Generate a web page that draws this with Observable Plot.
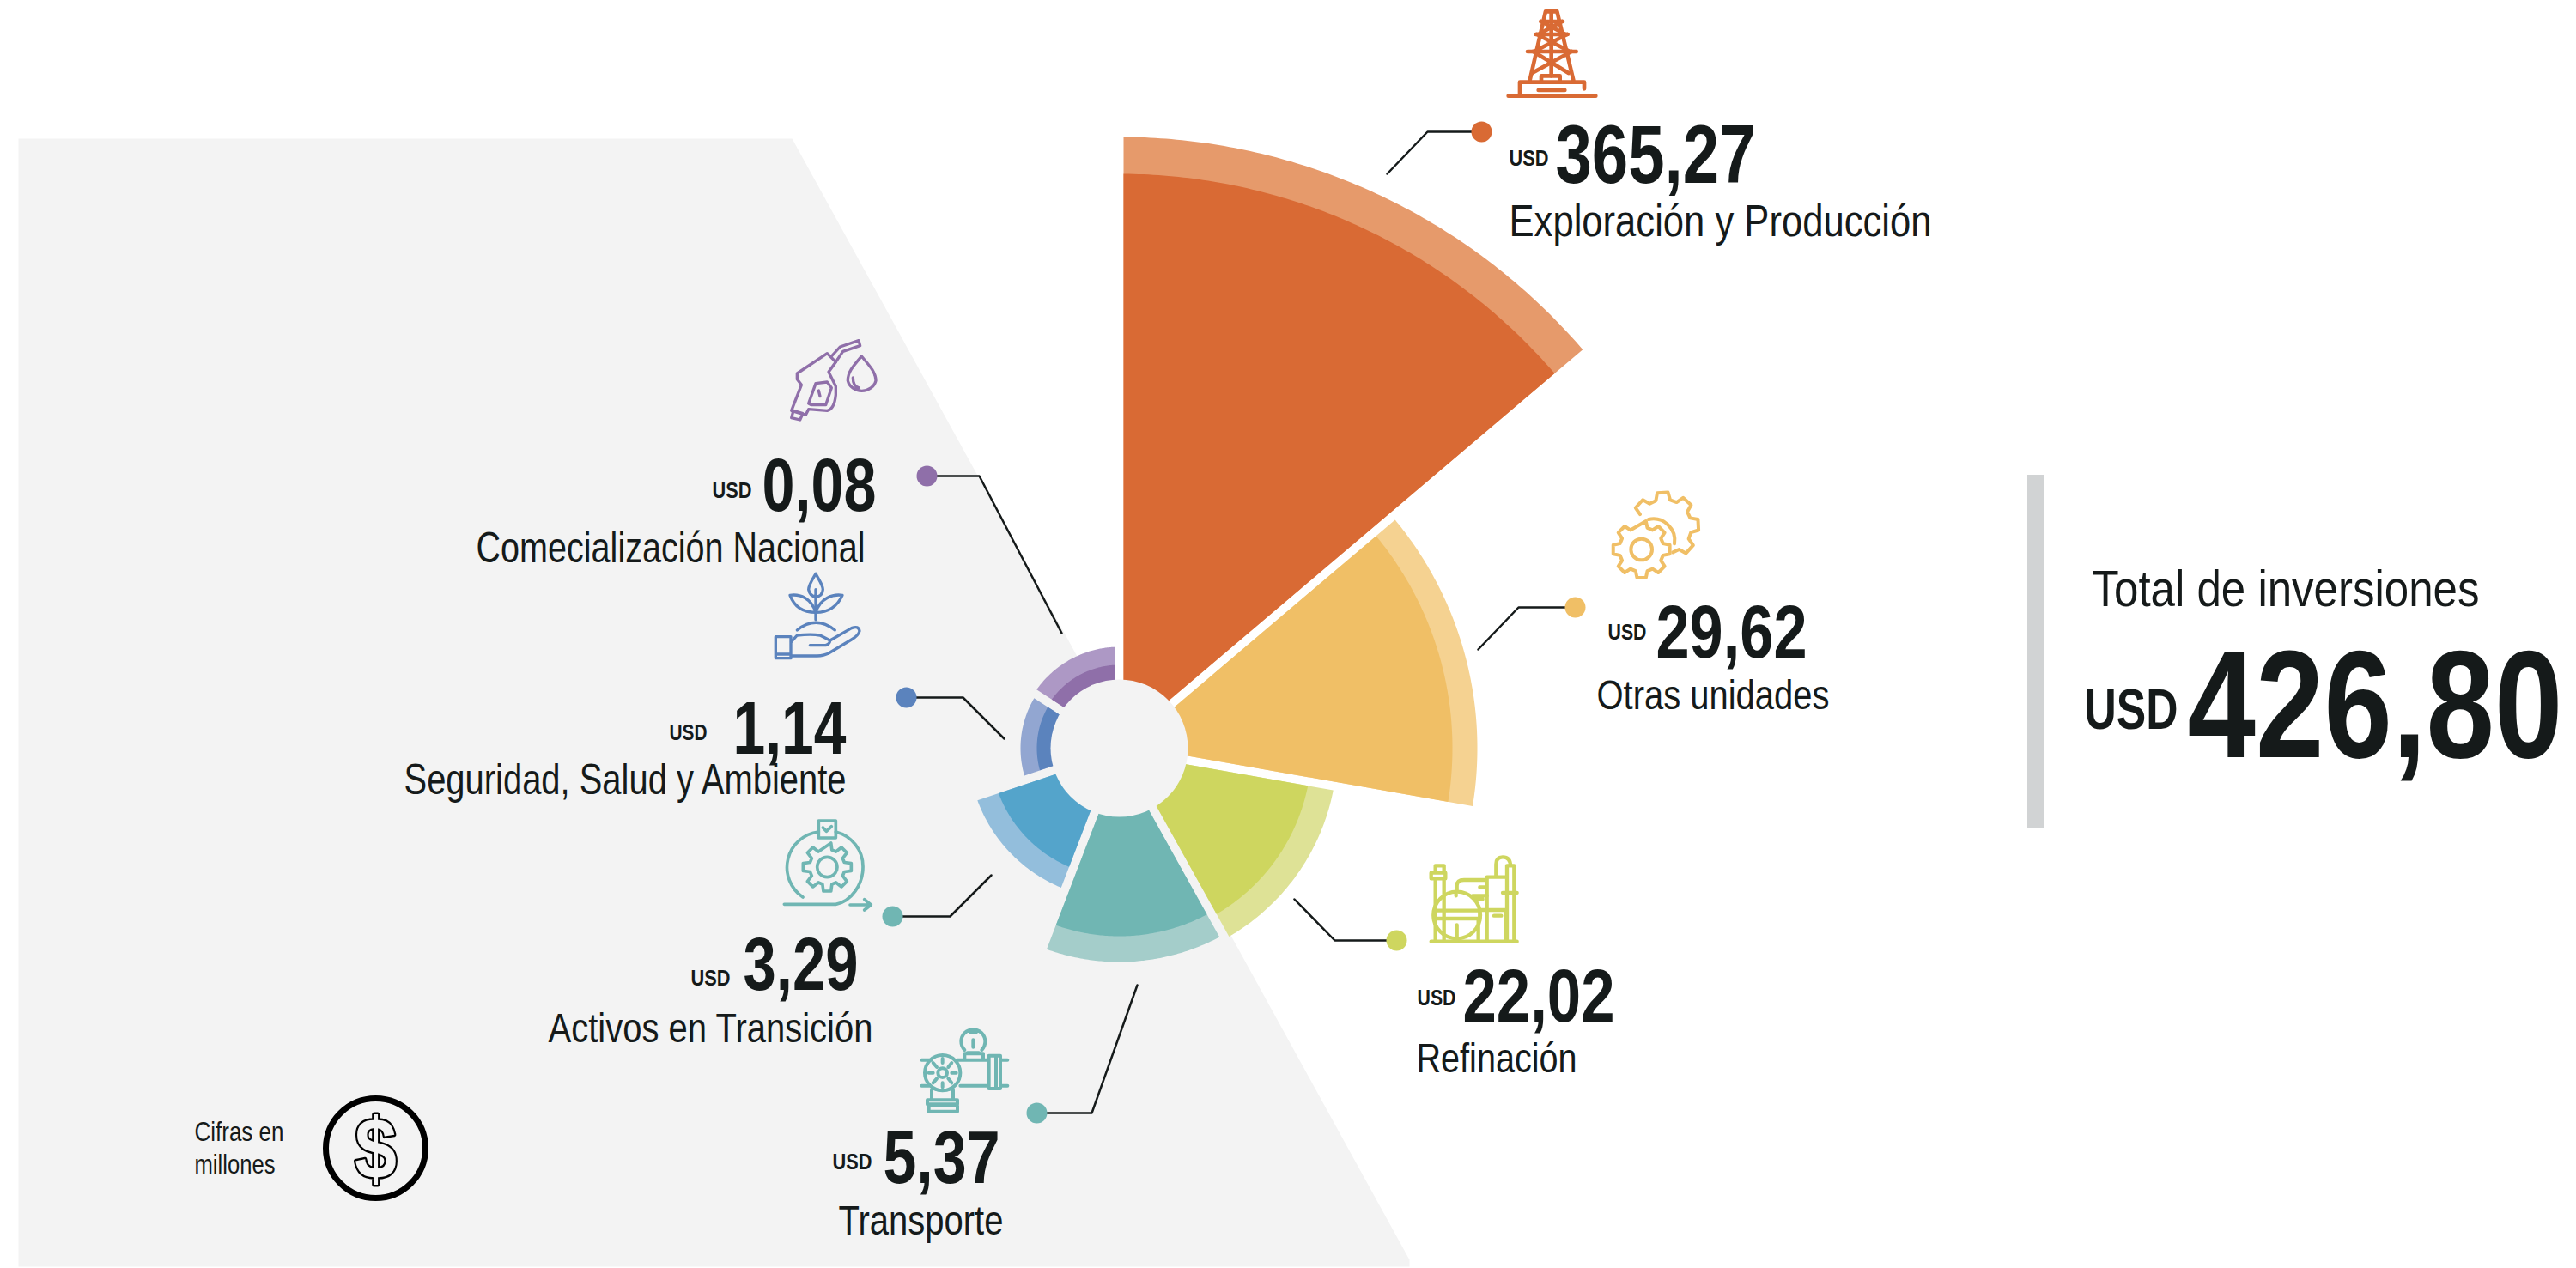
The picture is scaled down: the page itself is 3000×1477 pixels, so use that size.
<!DOCTYPE html>
<html lang="es">
<head>
<meta charset="utf-8">
<title>Total de inversiones</title>
<script src="https://cdn.jsdelivr.net/npm/d3@7"></script>
<script src="https://cdn.jsdelivr.net/npm/@observablehq/plot@0.6"></script>
<style>
  html, body { margin: 0; padding: 0; background: #fff; }
  svg { display: block; }
</style>
</head>
<body>
<div id="chart"></div>
<script>
// ---- Data ----
const categories = ["Exploración y Producción", "Otras unidades", "Refinación", "Transporte",
                    "Activos en Transición", "Seguridad, Salud y Ambiente", "Comecialización Nacional"];
const values = [365.27, 29.62, 22.02, 5.37, 3.29, 1.14, 0.08];
const totalValue = 426.80;
const totalTitle = "Total de inversiones";
const currency = "USD";
const noteLines = ["Cifras en", "millones"];

// ---- Layout of the rose (in page pixels) ----
const sectorBounds = [0, 49.7, 100, 150.9, 201, 251.4, 302.9, 360];
const outerRadius = [712, 417, 254, 249, 176, 115, 118];
const innerRadius = [669, 388, 224, 219, 150, 96, 97];
const lightColors = ["#e69a6b", "#f5d291", "#dee296", "#a4cdca", "#93bedc", "#92a6d1", "#ad98c5"];
const darkColors = ["#d96a34", "#f0bf66", "#ced65f", "#70b6b3", "#54a4cb", "#5b83bd", "#8f6fa9"];
const dotColors = ["#d96a34", "#f0bf66", "#ced65f", "#70b6b3", "#70b6b3", "#5b83bd", "#8f6fa9"];
const center = {x: 1303, y: 871};
const holeRadius = 80, gap = 5;
const ink = "#151a1a", panel = "#f3f3f3";
const W = 3000, H = 1477;

// leader: [outer end, elbow, dot]
const leaders = [
  [[1615, 202], [1662, 153], [1725, 153]],
  [[1721, 756], [1768, 707], [1834, 707]],
  [[1507, 1047], [1554, 1095], [1626, 1095]],
  [[1324, 1147], [1271, 1296], [1207, 1296]],
  [[1154, 1019], [1106, 1067], [1039, 1067]],
  [[1169, 860], [1121, 812], [1055, 812]],
  [[1236, 737], [1140, 554], [1079, 554]]
];
// label blocks
const valueEnd = [2044, 2104, 1880, 1164, 999, 985, 1020];
const valueBase = [212, 765, 1189, 1377, 1152, 877, 594];
const valueSize = [96, 88, 88, 88, 88, 88, 88];
const valueWidth = [233, 176, 177, 136, 134, 132, 133];
const usdEnd = [1803, 1917, 1695, 1015, 850, 823, 875];
const usdBase = [192, 744, 1170, 1361, 1147, 861, 579];
const usdWidth = [46, 45, 45, 46, 46, 44, 46];
const nameX = [1757, 1859, 1649, 1168, 1016, 985, 1007];
const nameAnchor = ["start", "start", "start", "end", "end", "end", "end"];
const nameBase = [274, 825, 1248, 1437, 1213, 924, 654];
const nameSize = [52, 49, 49, 49, 49, 50, 50];
const nameWidth = [492, 271, 187, 192, 378, 515, 453];

const fmt = v => v.toFixed(2).replace(".", ",");
const rad = d => d * Math.PI / 180;

function sectorPoints(a0, a1, r, key, color) {
  const r0 = 40, pts = [];
  const arc = (rr, from, to) => {
    const n = Math.ceil(Math.abs(to - from) * 2);
    for (let i = 0; i <= n; ++i) {
      const a = rad(from + (to - from) * i / n);
      pts.push({key, color, x: center.x + rr * Math.sin(a), y: center.y - rr * Math.cos(a)});
    }
  };
  const off = rr => Math.asin(gap / rr) * 180 / Math.PI;
  arc(r, a0 + off(r), a1 - off(r));
  arc(r0, a1 - off(r0), a0 + off(r0));
  return pts;
}
const lightPts = categories.flatMap((c, i) => sectorPoints(sectorBounds[i], sectorBounds[i + 1], outerRadius[i], c, lightColors[i]));
const darkPts = categories.flatMap((c, i) => sectorPoints(sectorBounds[i], sectorBounds[i + 1], innerRadius[i], c, darkColors[i]));

const panelPts = [[21, 161], [922, 161], [1641, 1467], [1641, 1475], [21, 1475]].map(([x, y]) => ({x, y}));
const leaderPts = leaders.flatMap((l, i) => l.map(([x, y]) => ({x, y, key: categories[i]})));
const dotPts = leaders.map((l, i) => ({x: l[2][0], y: l[2][1], color: dotColors[i]}));
const labels = categories.map((c, i) => ({
  name: c, value: fmt(values[i]), valueEnd: valueEnd[i], valueBase: valueBase[i], valueSize: valueSize[i], valueWidth: valueWidth[i],
  usdEnd: usdEnd[i], usdBase: usdBase[i], usdWidth: usdWidth[i],
  nameX: nameX[i], nameAnchor: nameAnchor[i], nameBase: nameBase[i], nameSize: nameSize[i], nameWidth: nameWidth[i]
}));

// ---- Icons: outline drawings, coordinates are in a 3x local space ----
function gear(cx, cy, ro, ri, teeth, rot = 0, from = 0, to = 360) {
  const step = 360 / teeth, p = [];
  for (let k = -teeth; k < teeth; ++k) {
    const a = rot + k * step;
    for (const [da, r] of [[-0.34, ri], [-0.2, ro], [0.2, ro], [0.34, ri]]) {
      const t = a + da * step;
      if (t >= from && t < to) p.push([cx + r * Math.sin(rad(t)), cy - r * Math.cos(rad(t))]);
    }
  }
  return "M" + p.map(q => q.map(v => v.toFixed(1)).join(",")).join("L") + (to - from >= 360 ? "Z" : "");
}
const circ = (cx, cy, r) => `M${cx - r},${cy}a${r},${r} 0 1 0 ${2 * r},0a${r},${r} 0 1 0 ${-2 * r},0`;
const icons = [
  {x: 1745, y: 5, color: darkColors[0], w: 14, d: [
    "M35 320H340M75 318V272H300V295M140 300H232M150 268V250H215V268",
    "M165 25H205M165 25L110 265M205 25L262 265M185 25V250M148 60H225M130 105H242M102 165H272",
    "M150 60L235 105M222 60L140 105M135 105L250 165M240 105L125 165M122 165L245 240M255 165L118 240"]},
  {x: 1870, y: 565, color: darkColors[1], w: 12, d: [
    gear(125, 225, 100, 78, 8, 0), circ(125, 225, 37),
    gear(205, 145, 120, 95, 8, -3, -68, 165),
    "M150 120A75 75 0 0 1 240 205"]},
  {x: 1655, y: 990, color: darkColors[2], w: 13, d: [
    "M35 320H335M50 320V100M80 320V100M35 80H85V100H35ZM50 80V55H80V80M45 212V240H205V212Z",
    circ(125, 228, 82), "M125 262V320M122 155V160",
    "M125 140V125Q125 105 150 105H230M230 320V95H300M205 130H230M300 320V55M325 320V55H300M262 95V50Q262 25 285 25Q312 25 312 55",
    "M285 150H335M205 210H295M180 160H230M190 172H215M255 230H280M200 240V320M295 210V320"]},
  {x: 910, y: 390, color: darkColors[6], w: 10, d: [
    "M55 135L160 65L190 95L165 130L190 180V210Q185 260 160 265L95 260L85 280L35 265L70 175L55 155Z",
    "M175 75L205 42L270 20L275 38L215 58L190 95M35 290L65 297L75 275L42 265Z",
    "M95 240L120 170L160 165L175 185L155 245L105 245ZM130 195L135 215",
    "M280 75C250 110 232 130 232 160A50 45 0 0 0 330 160C330 130 305 105 280 75ZM250 150Q250 180 270 185"]},
  {x: 895, y: 660, color: darkColors[5], w: 10, d: [
    "M25 245H78V320H25ZM25 306H78",
    "M80 262L100 240Q150 235 180 240Q200 250 215 258L290 215Q315 205 318 225Q315 240 290 255L215 300Q195 312 170 312H80M145 275H200Q215 270 215 258",
    "M100 222Q165 170 232 222M165 185V100",
    "M165 25C150 50 140 65 140 80Q145 105 165 105Q188 105 190 80C190 65 178 50 165 25ZM165 80V100",
    "M75 100C110 95 150 110 165 160C120 160 90 140 75 100ZM258 100C225 95 180 110 165 160C210 160 240 140 258 100Z"]},
  {x: 905, y: 950, color: darkColors[3], w: 11, d: [
    "M145 18H205V78H145ZM160 42L172 55L190 38",
    "M145 57A125 125 0 0 0 90 285M25 310H205C260 300 300 240 300 180A125 125 0 0 0 205 57",
    "M255 312H325M305 293L328 312L305 330",
    gear(175, 180, 85, 62, 8, 0), circ(175, 180, 35)]},
  {x: 1065, y: 1188, color: darkColors[3], w: 12, d: [
    "M175 105A42 42 0 1 1 235 105M205 70V95M195 45H215M185 115H225M175 135V118H240V135",
    "M25 140H60M150 140H260M160 230H260M25 230H50M260 125V240M285 125V240M260 125H300V240H260M300 140H325M300 230H325",
    circ(98, 185, 62), circ(98, 185, 16),
    "M98 135V150M98 220V235M50 185H65M130 185H146M65 150L78 165M130 150L118 165M65 220L78 205M130 220L118 205",
    "M60 245V275M135 245V275M45 280H150V295H45ZM50 300H150V320H50Z"]}
];
const iconMark = (index, scales) => {
  const g = d3.create("svg:g").attr("fill", "none").attr("stroke-linecap", "round").attr("stroke-linejoin", "round");
  for (const ic of icons) {
    const ig = g.append("g")
      .attr("transform", `translate(${scales.x(ic.x)},${scales.y(ic.y)}) scale(${1 / 3})`)
      .attr("stroke", ic.color).attr("stroke-width", ic.w);
    ic.d.forEach(d => ig.append("path").attr("d", d));
  }
  return g.node();
};

// Condensed lettering: no narrow face is installed, so each text is fitted to its measured width.
const face = "'Liberation Sans', Arial, sans-serif";
const squeeze = width => (i, s, v, d, c, next) => {
  const g = next(i, s, v, d, c);
  d3.select(g).selectAll("text").attr("textLength", width).attr("lengthAdjust", "spacingAndGlyphs");
  return g;
};
const txt = (data, width, o) => Plot.text(data, {fontFamily: face, fill: ink, lineAnchor: "bottom", render: squeeze(width), ...o});

const plot = Plot.plot({
  width: W, height: H, margin: 0,
  x: {domain: [0, W], range: [0, W], axis: null},
  y: {domain: [0, H], range: [0, H], axis: null},
  color: {type: "identity"},
  style: {background: "#fff"},
  marks: [
    Plot.line(panelPts, {x: "x", y: "y", fill: panel, stroke: "none"}),
    Plot.line(lightPts, {x: "x", y: "y", z: "key", fill: "color", stroke: "none"}),
    Plot.line(darkPts, {x: "x", y: "y", z: "key", fill: "color", stroke: "none"}),
    Plot.dot([center], {x: "x", y: "y", r: holeRadius, fill: panel, stroke: "none"}),
    Plot.line(leaderPts, {x: "x", y: "y", z: "key", stroke: ink, strokeWidth: 2.5}),
    Plot.dot(dotPts, {x: "x", y: "y", r: 12, fill: "color", stroke: "none"}),
    iconMark,
    ...labels.map(d => txt([d], d.valueWidth, {x: "valueEnd", y: "valueBase", text: "value", textAnchor: "end", fontSize: d.valueSize, fontWeight: 700})),
    ...labels.map(d => txt([d], d.usdWidth, {x: "usdEnd", y: "usdBase", text: () => currency, textAnchor: "end", fontSize: 26, fontWeight: 700})),
    ...labels.map(d => txt([d], d.nameWidth, {x: "nameX", y: "nameBase", text: "name", textAnchor: d.nameAnchor, fontSize: d.nameSize})),
    Plot.rect([0], {x1: () => 2361, x2: () => 2380, y1: () => 553, y2: () => 964, fill: "#d1d3d4"}),
    txt([0], 451, {x: () => 2436, y: () => 705, text: () => totalTitle, textAnchor: "start", fontSize: 60}),
    txt([0], 109, {x: () => 2536, y: () => 848, text: () => currency, textAnchor: "end", fontSize: 67, fontWeight: 700}),
    txt([0], 437, {x: () => 2984, y: () => 881, text: () => fmt(totalValue), textAnchor: "end", fontSize: 179, fontWeight: 700}),
    txt([0], 104, {x: () => 226, y: () => 1328, text: () => noteLines[0], textAnchor: "start", fontSize: 32}),
    txt([0], 94, {x: () => 226, y: () => 1366, text: () => noteLines[1], textAnchor: "start", fontSize: 32}),
    Plot.dot([{x: 437, y: 1337}], {x: "x", y: "y", r: 58, fill: "none", stroke: "#000", strokeWidth: 7}),
    txt([{x: 437, y: 1337}], 49, {x: "x", y: "y", text: () => "$", textAnchor: "middle", fontSize: 100, fontWeight: 700, fill: panel, stroke: "#000", strokeWidth: 5, dy: 35})
  ]
});
document.getElementById("chart").append(plot);
</script>
</body>
</html>
